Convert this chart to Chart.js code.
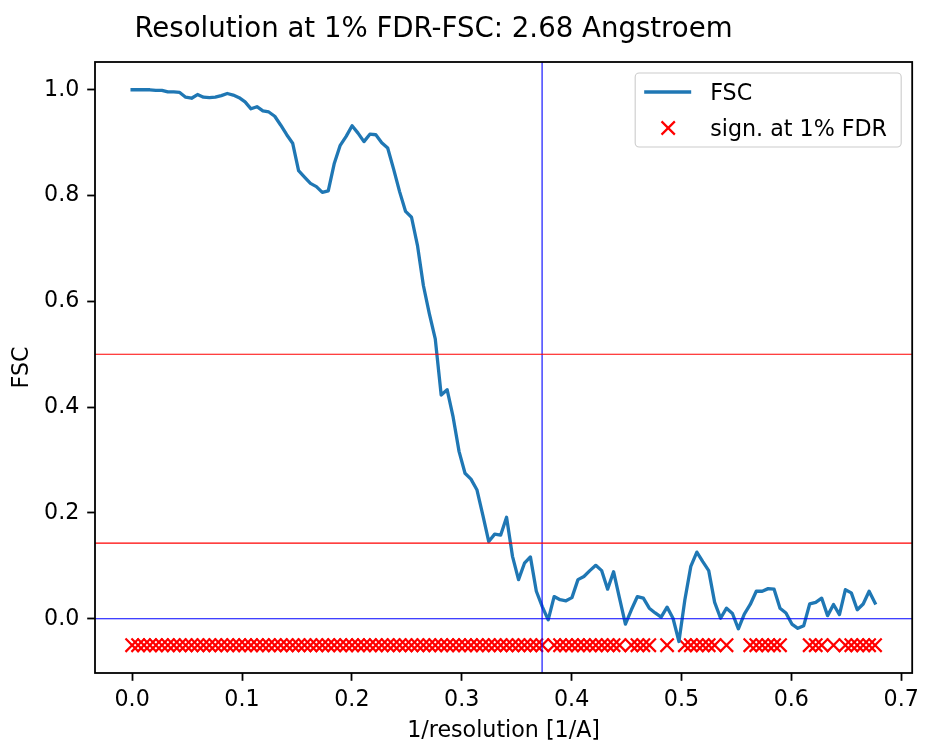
<!DOCTYPE html>
<html>
<head>
<meta charset="utf-8">
<script src="https://cdn.jsdelivr.net/npm/chart.js@4.4.1/dist/chart.umd.min.js"></script>
<style>
  html, body { margin: 0; padding: 0; background: #ffffff; }
  #wrap { width: 925px; height: 742px; }
</style>
</head>
<body>
<div id="wrap"><canvas id="fscChart" width="925" height="742"></canvas></div>
<script>
// Spatial frequency of each Fourier shell [1/A]
const freq = [
  0.0000, 0.0054, 0.0108, 0.0162, 0.0216, 0.0271, 0.0325, 0.0379, 0.0433, 0.0487,
  0.0541, 0.0595, 0.0649, 0.0703, 0.0757, 0.0812, 0.0866, 0.0920, 0.0974, 0.1028,
  0.1082, 0.1136, 0.1190, 0.1244, 0.1298, 0.1353, 0.1407, 0.1461, 0.1515, 0.1569,
  0.1623, 0.1677, 0.1731, 0.1785, 0.1839, 0.1894, 0.1948, 0.2002, 0.2056, 0.2110,
  0.2164, 0.2218, 0.2272, 0.2326, 0.2380, 0.2435, 0.2489, 0.2543, 0.2597, 0.2651,
  0.2705, 0.2759, 0.2813, 0.2867, 0.2921, 0.2976, 0.3030, 0.3084, 0.3138, 0.3192,
  0.3246, 0.3300, 0.3354, 0.3408, 0.3462, 0.3517, 0.3571, 0.3625, 0.3679, 0.3733,
  0.3787, 0.3841, 0.3895, 0.3949, 0.4003, 0.4058, 0.4112, 0.4166, 0.4220, 0.4274,
  0.4328, 0.4382, 0.4436, 0.4490, 0.4544, 0.4599, 0.4653, 0.4707, 0.4761, 0.4815,
  0.4869, 0.4923, 0.4977, 0.5031, 0.5085, 0.5140, 0.5194, 0.5248, 0.5302, 0.5356,
  0.5410, 0.5464, 0.5518, 0.5572, 0.5626, 0.5681, 0.5735, 0.5789, 0.5843, 0.5897,
  0.5951, 0.6005, 0.6059, 0.6113, 0.6167, 0.6222, 0.6276, 0.6330, 0.6384, 0.6438,
  0.6492, 0.6546, 0.6600, 0.6654, 0.6708, 0.6762
];

// Fourier shell correlation per shell
const fsc = [
  1.000, 1.000, 1.000, 1.000, 0.999, 0.999, 0.996, 0.996, 0.995, 0.986,
  0.984, 0.991, 0.986, 0.985, 0.986, 0.989, 0.993, 0.990, 0.985, 0.977,
  0.964, 0.968, 0.960, 0.958, 0.950, 0.933, 0.915, 0.899, 0.847, 0.835,
  0.823, 0.817, 0.806, 0.809, 0.860, 0.895, 0.912, 0.932, 0.918, 0.902,
  0.916, 0.915, 0.900, 0.890, 0.850, 0.807, 0.770, 0.759, 0.706, 0.630,
  0.577, 0.529, 0.423, 0.433, 0.382, 0.316, 0.275, 0.264, 0.244, 0.196,
  0.146, 0.160, 0.158, 0.192, 0.118, 0.074, 0.105, 0.117, 0.052, 0.023,
  -0.002, 0.042, 0.036, 0.034, 0.040, 0.074, 0.080, 0.091, 0.101, 0.091,
  0.056, 0.089, 0.039, -0.010, 0.017, 0.042, 0.039, 0.020, 0.011, 0.003,
  0.022, 0.001, -0.043, 0.036, 0.099, 0.126, 0.108, 0.091, 0.031, 0.001,
  0.020, 0.010, -0.019, 0.009, 0.027, 0.052, 0.052, 0.057, 0.056, 0.020,
  0.011, -0.010, -0.018, -0.013, 0.028, 0.031, 0.039, 0.006, 0.027, 0.008,
  0.055, 0.049, 0.017, 0.028, 0.052, 0.030
];

// 1 = shell significant at 1% FDR
const significant = [
  1, 1, 1, 1, 1, 1, 1, 1, 1, 1,
  1, 1, 1, 1, 1, 1, 1, 1, 1, 1,
  1, 1, 1, 1, 1, 1, 1, 1, 1, 1,
  1, 1, 1, 1, 1, 1, 1, 1, 1, 1,
  1, 1, 1, 1, 1, 1, 1, 1, 1, 1,
  1, 1, 1, 1, 1, 1, 1, 1, 1, 1,
  1, 1, 1, 1, 1, 1, 1, 1, 1, 1,
  0, 1, 1, 1, 1, 1, 1, 1, 1, 1,
  1, 1, 1, 0, 1, 1, 1, 1, 0, 0,
  1, 0, 0, 1, 1, 1, 1, 1, 1, 0,
  1, 0, 0, 0, 1, 1, 1, 1, 1, 1,
  0, 0, 0, 0, 1, 1, 1, 0, 1, 0,
  1, 1, 1, 1, 1, 1
];

const resolutionAngstrom = 2.68;
const redThresholds = [0.5, 0.143];
const zeroLevel = 0.0;
const markerLevel = -0.05;

const xTicks = [0.0, 0.1, 0.2, 0.3, 0.4, 0.5, 0.6, 0.7];
const xTickLabels = ['0.0', '0.1', '0.2', '0.3', '0.4', '0.5', '0.6', '0.7'];
const yTicks = [0.0, 0.2, 0.4, 0.6, 0.8, 1.0];
const yTickLabels = ['0.0', '0.2', '0.4', '0.6', '0.8', '1.0'];
const xLimits = [-0.0338, 0.7100];
const yLimits = [-0.1025, 1.0525];

const titleText = 'Resolution at 1% FDR-FSC: ' + resolutionAngstrom.toFixed(2) + ' Angstroem';
const xLabel = '1/resolution [1/A]';
const yLabel = 'FSC';
const legendLabels = ['FSC', 'sign. at 1% FDR'];

const FONT = '"DejaVu Sans", "Liberation Sans", sans-serif';
const LINE_BLUE = '#1f77b4';

const fscPoints = freq.map((x, i) => ({ x: x, y: fsc[i] }));
const sigPoints = freq.filter((x, i) => significant[i] === 1).map(x => ({ x: x, y: markerLevel }));
const resFreq = 1 / resolutionAngstrom;

function hLine(y) { return [{ x: xLimits[0], y: y }, { x: xLimits[1], y: y }]; }
function vLine(x) { return [{ x: x, y: yLimits[0] }, { x: x, y: yLimits[1] }]; }

const refStyle = { type: 'line', pointRadius: 0, borderWidth: 1.1, fill: false, order: 0, clip: 0 };

const datasets = [
  { type: 'line', label: legendLabels[0], data: fscPoints, borderColor: LINE_BLUE, borderWidth: 3.3,
    pointRadius: 0, tension: 0, fill: false, borderJoinStyle: 'round', borderCapStyle: 'square', order: 1 },
  { type: 'line', label: legendLabels[1], data: sigPoints, showLine: false, pointStyle: 'crossRot',
    pointRadius: 9.4, pointBorderWidth: 2.2, pointBorderColor: '#ff0000', pointBackgroundColor: '#ff0000',
    borderColor: '#ff0000', order: 2 },
  Object.assign({ data: hLine(redThresholds[0]), borderColor: '#ff0000' }, refStyle),
  Object.assign({ data: hLine(redThresholds[1]), borderColor: '#ff0000' }, refStyle),
  Object.assign({ data: hLine(zeroLevel), borderColor: '#0000ff' }, refStyle),
  Object.assign({ data: vLine(resFreq), borderColor: '#0000ff' }, refStyle)
];

// Frame, title, axis labels and legend box drawn on top of the plot
const decorations = {
  id: 'decorations',
  afterDraw(chart) {
    const ctx = chart.ctx;
    const a = chart.chartArea;
    ctx.save();
    ctx.strokeStyle = '#000000';
    ctx.lineWidth = 1.8;
    ctx.strokeRect(a.left, a.top, a.right - a.left, a.bottom - a.top);

    ctx.fillStyle = '#000000';
    ctx.textBaseline = 'alphabetic';
    ctx.textAlign = 'center';
    ctx.font = '27.6px ' + FONT;
    ctx.fillText(titleText, 433.5, 37);

    ctx.font = '22.2px ' + FONT;
    ctx.fillText(xLabel, (a.left + a.right) / 2, 737);

    ctx.save();
    ctx.translate(28, (a.top + a.bottom) / 2);
    ctx.rotate(-Math.PI / 2);
    ctx.fillText(yLabel, 0, 0);
    ctx.restore();

    // legend
    const lx = a.right - 11 - 266, ly = a.top + 11, lw = 266, lh = 74, r = 4;
    ctx.beginPath();
    ctx.moveTo(lx + r, ly);
    ctx.arcTo(lx + lw, ly, lx + lw, ly + lh, r);
    ctx.arcTo(lx + lw, ly + lh, lx, ly + lh, r);
    ctx.arcTo(lx, ly + lh, lx, ly, r);
    ctx.arcTo(lx, ly, lx + lw, ly, r);
    ctx.closePath();
    ctx.fillStyle = 'rgba(255,255,255,0.8)';
    ctx.fill();
    ctx.strokeStyle = '#cccccc';
    ctx.lineWidth = 1.1;
    ctx.stroke();

    ctx.strokeStyle = LINE_BLUE;
    ctx.lineWidth = 3.3;
    ctx.beginPath();
    ctx.moveTo(lx + 9, ly + 19);
    ctx.lineTo(lx + 56, ly + 19);
    ctx.stroke();

    const cx = lx + 33, cy = ly + 55, h = 6.65;
    ctx.strokeStyle = '#ff0000';
    ctx.lineWidth = 2.2;
    ctx.beginPath();
    ctx.moveTo(cx - h, cy - h); ctx.lineTo(cx + h, cy + h);
    ctx.moveTo(cx - h, cy + h); ctx.lineTo(cx + h, cy - h);
    ctx.stroke();

    ctx.fillStyle = '#000000';
    ctx.textAlign = 'left';
    ctx.font = '22.2px ' + FONT;
    ctx.fillText(legendLabels[0], lx + 75, ly + 27);
    ctx.fillText(legendLabels[1], lx + 75, ly + 63);
    ctx.restore();
  }
};

const tickFont = { family: FONT, size: 22.2 };
const gridStyle = { display: true, drawOnChartArea: false, drawTicks: true, tickLength: 7.8, tickWidth: 1.8, tickColor: '#000000' };

new Chart(document.getElementById('fscChart'), {
  type: 'line',
  data: { datasets: datasets },
  options: {
    responsive: false,
    animation: false,
    events: [],
    layout: { padding: { top: 62, right: 8, left: 0, bottom: 0 } },
    plugins: { legend: { display: false }, title: { display: false }, tooltip: { enabled: false } },
    scales: {
      x: {
        type: 'linear', min: xLimits[0], max: xLimits[1],
        afterBuildTicks(scale) { scale.ticks = xTicks.map(v => ({ value: v })); },
        afterFit(scale) { scale.height = 69; },
        ticks: { autoSkip: false, maxRotation: 0, padding: 6, color: '#000000', font: tickFont,
                 callback: (v, i) => xTickLabels[i] },
        grid: gridStyle,
        border: { display: false }
      },
      y: {
        type: 'linear', min: yLimits[0], max: yLimits[1],
        afterBuildTicks(scale) { scale.ticks = yTicks.map(v => ({ value: v })); },
        afterFit(scale) { scale.width = 95; },
        ticks: { autoSkip: false, padding: 7.8, color: '#000000', font: tickFont,
                 callback: (v, i) => yTickLabels[i] },
        grid: gridStyle,
        border: { display: false }
      }
    }
  },
  plugins: [decorations]
});
</script>
</body>
</html>
